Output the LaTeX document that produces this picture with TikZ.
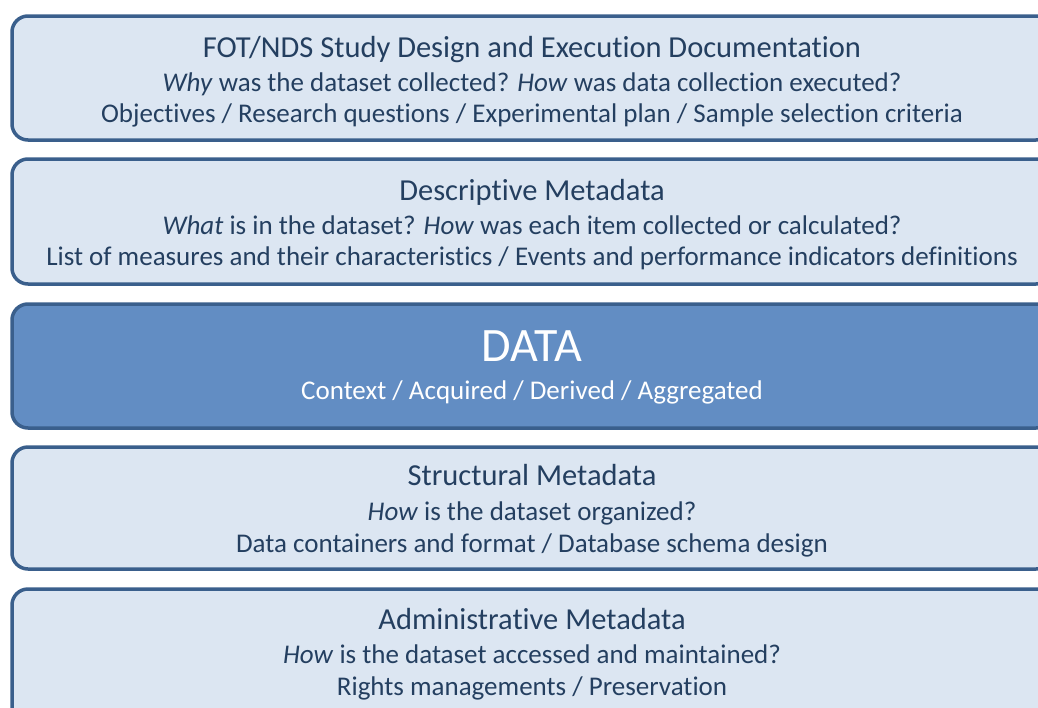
\documentclass[tikz,border=0pt]{standalone}
\usepackage{fontspec}
\setmainfont{Carlito}[Ligatures={NoCommon,NoContextual,NoRequired},Contextuals=NoAlternate]
\newcommand\TiNoLig{t\kern0pt i}
\definecolor{boxfill}{HTML}{DCE6F2}
\definecolor{boxline}{HTML}{3A5F8C}
\definecolor{datafill}{HTML}{628DC3}
\definecolor{txt}{HTML}{243F60}
\begin{document}
\begin{tikzpicture}[x=1pt,y=-1pt,
  layer/.style={draw=boxline,line width=3.5pt,rounded corners=16pt,fill=boxfill},
  datalayer/.style={layer,fill=datafill},
  ttl/.style={anchor=base,text=txt,font=\fontsize{30.5}{34}\selectfont,inner sep=0pt},
  sub/.style={anchor=base,text=txt,font=\fontsize{27}{31}\selectfont,inner sep=0pt},
  dttl/.style={anchor=base,text=white,font=\fontsize{48}{54}\selectfont,inner sep=0pt},
  dsub/.style={anchor=base,text=white,font=\fontsize{27}{31}\selectfont,inner sep=0pt}]
\useasboundingbox (0,0) rectangle (1038,707);
\begin{scope}
\clip (0,0) rectangle (1038,707);
\draw[layer] (12,16) rectangle (1052,140);
\draw[layer] (12,159) rectangle (1052,284);
\draw[datalayer] (12,304) rectangle (1052,428);
\draw[layer] (12,447) rectangle (1052,569);
\draw[layer] (12,589) rectangle (1052,730);
\end{scope}
% box 1
\node[ttl] (a1) at (532,57) {FOT/NDS Study Design and Execu\TiNoLig on Documenta\TiNoLig on};
\node[sub] (a2) at (532,91) {\textit{Why} was the dataset collected? \textit{How} was data collec\TiNoLig on executed?};
\node[sub] (a3) at (532,122) {Objec\TiNoLig ves / Research ques\TiNoLig ons / Experimental plan / Sample selec\TiNoLig on criteria};
% box 2
\node[ttl] (b1) at (532,200) {Descrip\TiNoLig ve Metadata};
\node[sub] (b2) at (532,234) {\textit{What} is in the dataset? \textit{How} was each item collected or calculated?};
\node[sub] (b3) at (532,265) {List of measures and their characteris\TiNoLig cs / Events and performance indicators defini\TiNoLig ons};
% data
\node[dttl] (c1) at (532,361) {DATA};
\node[dsub] (c2) at (532,399) {Context / Acquired / Derived / Aggregated};
% box 4
\node[ttl] (d1) at (532,485) {Structural Metadata};
\node[sub] (d2) at (532,520) {\textit{How} is the dataset organized?};
\node[sub] (d3) at (532,552) {Data containers and format / Database schema design};
% box 5
\node[ttl] (e1) at (532,629) {Administra\TiNoLig ve Metadata};
\node[sub] (e2) at (532,663) {\textit{How} is the dataset accessed and maintained?};
\node[sub] (e3) at (532,695) {Rights managements / Preserva\TiNoLig on};
\end{tikzpicture}
\end{document}
